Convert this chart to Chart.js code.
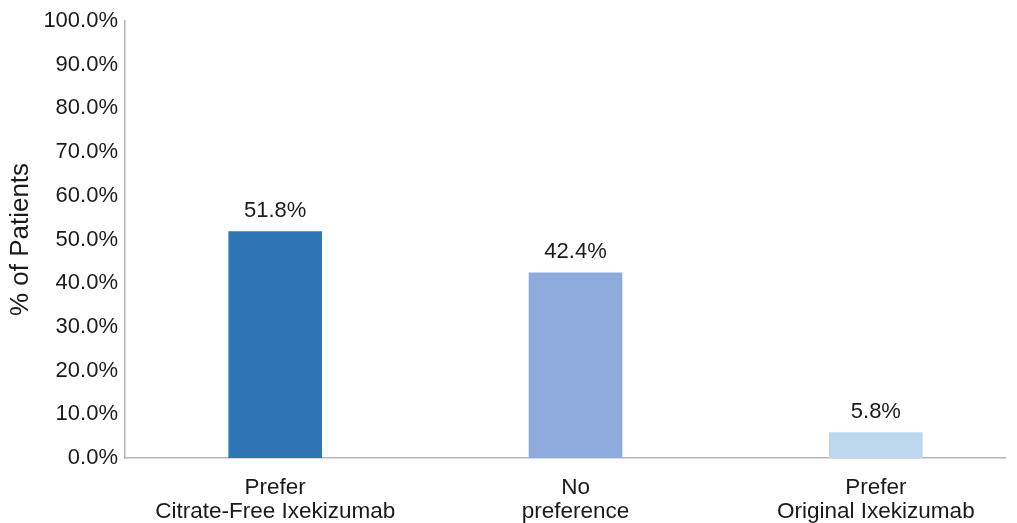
<!DOCTYPE html>
<html>
<head>
<meta charset="utf-8">
<script src="https://cdn.jsdelivr.net/npm/chart.js@4.4.1/dist/chart.umd.min.js"></script>
<style>
  html, body { margin: 0; padding: 0; background: #fff; }
  #wrap { width: 1017px; height: 523px; }
</style>
</head>
<body>
<div id="wrap"><canvas id="prefChart"></canvas></div>
<script>
// preference categories and share of patients (%)
const categories = [
    ['Prefer', 'Citrate-Free Ixekizumab'],
    ['No', 'preference'],
    ['Prefer', 'Original Ixekizumab']
];
const percents = [51.8, 42.4, 5.8];
const barColors = ['#2e75b6', '#8faadc', '#bdd7ee'];
const yTicks = [0, 10, 20, 30, 40, 50, 60, 70, 80, 90, 100];

const FONT = 'Liberation Sans, Arial, sans-serif';
const TEXT = '#1a1a1a';

// writes the value above each bar
const valueLabels = {
    id: 'valueLabels',
    afterDatasetsDraw(chart) {
        const ctx = chart.ctx;
        const meta = chart.getDatasetMeta(0);
        ctx.save();
        ctx.font = '22px ' + FONT;
        ctx.fillStyle = TEXT;
        ctx.textAlign = 'center';
        ctx.textBaseline = 'bottom';
        meta.data.forEach((bar, i) => {
            ctx.fillText(percents[i].toFixed(1) + '%', bar.x, bar.y - 10);
        });
        ctx.restore();
    }
};

const ctx = document.getElementById('prefChart').getContext('2d');
const prefChart = new Chart(ctx, {
    type: 'bar',
    data: {
        datasets: [{
            data: percents.map((v, i) => ({ x: i, y: v })),
            backgroundColor: barColors,
            borderWidth: 0,
            barThickness: 93
        }]
    },
    options: {
        responsive: true,
        maintainAspectRatio: false,
        animation: false,
        layout: { padding: { top: 21, right: 12, left: 0, bottom: 0 } },
        plugins: {
            legend: { display: false },
            tooltip: { enabled: false }
        },
        scales: {
            x: {
                type: 'linear',
                min: -0.5,
                max: 2.43,
                offset: false,
                grid: { display: false, drawTicks: false },
                border: { display: true, color: '#b5b5b5', width: 1.5 },
                afterBuildTicks: (scale) => {
                    scale.ticks = categories.map((c, i) => ({ value: i }));
                },
                afterFit: (scale) => { scale.height = 65; },
                ticks: {
                    autoSkip: false,
                    maxRotation: 0,
                    padding: 17,
                    color: TEXT,
                    font: { family: FONT, size: 22.5, lineHeight: 1.1 },
                    callback: (value) => categories[value]
                }
            },
            y: {
                min: 0,
                max: 100,
                grid: { display: false, drawTicks: false },
                border: { display: true, color: '#b5b5b5', width: 1.5 },
                afterBuildTicks: (scale) => {
                    scale.ticks = yTicks.map(v => ({ value: v }));
                },
                afterFit: (scale) => { scale.width = 125; },
                ticks: {
                    padding: 7,
                    color: TEXT,
                    font: { family: FONT, size: 22 },
                    callback: (value) => value.toFixed(1) + '%'
                },
                title: {
                    display: true,
                    text: '% of Patients',
                    color: TEXT,
                    padding: { top: 5, bottom: 0 },
                    font: { family: FONT, size: 26 }
                }
            }
        }
    },
    plugins: [valueLabels]
});
</script>
</body>
</html>
